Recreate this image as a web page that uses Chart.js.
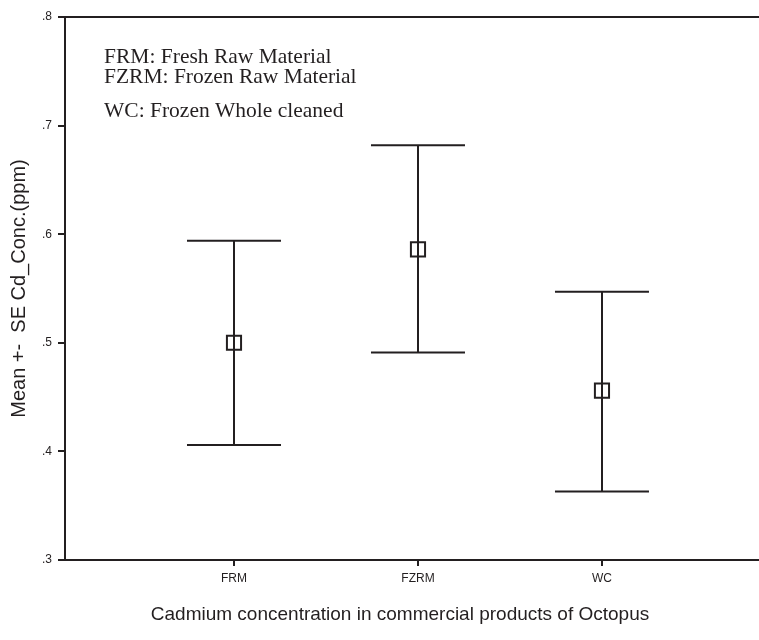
<!DOCTYPE html>
<html>
<head>
<meta charset="utf-8">
<title>Cadmium concentration in commercial products of Octopus</title>
<script src="https://cdn.jsdelivr.net/npm/chart.js"></script>
<style>
  body { margin: 0; background: #fff; }
  canvas { display: block; }
</style>
</head>
<body>
<canvas id="chart" width="759" height="640"></canvas>
<script>
// categories on the x axis
const categories = ["FRM", "FZRM", "WC"];
// mean and mean +- SE (ppm)
const meanValues = [0.500, 0.586, 0.456];
const upperValues = [0.594, 0.682, 0.547];
const lowerValues = [0.406, 0.491, 0.363];
// y tick values
const yTicks = [0.3, 0.4, 0.5, 0.6, 0.7, 0.8];
// note text inside the plot
const noteLines = ["FRM: Fresh Raw Material", "FZRM: Frozen Raw Material", "WC: Frozen Whole cleaned"];

const INK = "#231f20";
const SANS = '"Liberation Sans", Arial, sans-serif';

// top frame line, axis extension and the notes
const frameAndNotes = {
    id: "frameAndNotes",
    afterDraw(chart) {
        const { ctx, chartArea } = chart;
        ctx.save();
        ctx.strokeStyle = INK;
        ctx.lineWidth = 2;
        ctx.beginPath();
        ctx.moveTo(chartArea.left, chartArea.top);
        ctx.lineTo(chart.width, chartArea.top);
        ctx.moveTo(chartArea.right, chartArea.bottom);
        ctx.lineTo(chart.width, chartArea.bottom);
        ctx.stroke();

        ctx.fillStyle = INK;
        ctx.font = '21.5px "Liberation Serif", "Times New Roman", serif';
        ctx.textBaseline = "alphabetic";
        const x = chartArea.left + 39;
        const baselines = [63, 83, 117];
        noteLines.forEach((line, i) => ctx.fillText(line, x, baselines[i]));
        ctx.restore();
    }
};

// vertical stems, one per category
const stemSets = categories.map((c, i) => ({
    type: "line",
    data: [{ x: i + 1, y: lowerValues[i] }, { x: i + 1, y: upperValues[i] }],
    borderColor: INK,
    borderWidth: 2,
    pointRadius: 0,
    order: 3
}));

// caps at mean +- SE
const capSet = {
    type: "scatter",
    data: categories.flatMap((c, i) => [
        { x: i + 1, y: upperValues[i] },
        { x: i + 1, y: lowerValues[i] }
    ]),
    pointStyle: "line",
    pointRadius: 47,
    borderColor: INK,
    borderWidth: 2,
    order: 2
};

// mean markers
const meanSet = {
    type: "scatter",
    data: categories.map((c, i) => ({ x: i + 1, y: meanValues[i] })),
    pointStyle: "rect",
    pointRadius: 10,
    borderColor: INK,
    backgroundColor: "rgba(0,0,0,0)",
    borderWidth: 2,
    order: 1
};

new Chart(document.getElementById("chart").getContext("2d"), {
    type: "scatter",
    data: { datasets: [...stemSets, capSet, meanSet] },
    options: {
        responsive: false,
        animation: false,
        layout: { autoPadding: false, padding: { top: 17, right: 24, left: 0, bottom: 0 } },
        plugins: {
            legend: { display: false },
            tooltip: { enabled: false }
        },
        scales: {
            x: {
                type: "linear",
                min: 0.0815,
                max: 3.723,
                afterBuildTicks: s => { s.ticks = categories.map((c, i) => ({ value: i + 1 })); },
                afterFit: s => { s.height = 80; },
                ticks: {
                    callback: (v, i) => categories[i],
                    color: INK,
                    font: { family: SANS, size: 12 },
                    padding: 5,
                    maxRotation: 0,
                    autoSkip: false
                },
                grid: { drawOnChartArea: false, drawTicks: true, tickLength: 6, color: INK, lineWidth: 2 },
                border: { display: true, color: INK, width: 2 },
                title: {
                    display: true,
                    text: "Cadmium concentration in commercial products of Octopus",
                    color: INK,
                    font: { family: SANS, size: 19 },
                    padding: { top: 0, bottom: 14 }
                }
            },
            y: {
                type: "linear",
                min: 0.3,
                max: 0.8,
                afterBuildTicks: s => { s.ticks = yTicks.map(v => ({ value: v })); },
                afterFit: s => { s.width = 65; },
                ticks: {
                    callback: v => v.toFixed(1).replace(/^0/, ""),
                    color: INK,
                    font: { family: SANS, size: 12 },
                    padding: 6
                },
                grid: { drawOnChartArea: false, drawTicks: true, tickLength: 7, color: INK, lineWidth: 2 },
                border: { display: true, color: INK, width: 2 },
                title: {
                    display: true,
                    text: "Mean +-  SE Cd_Conc.(ppm)",
                    color: INK,
                    font: { family: SANS, size: 20 },
                    padding: { top: 7, bottom: 0 }
                }
            }
        }
    },
    plugins: [frameAndNotes]
});
</script>
</body>
</html>
